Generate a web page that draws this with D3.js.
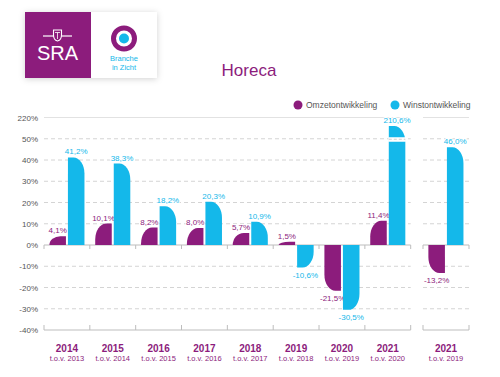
<!DOCTYPE html>
<html>
<head>
<meta charset="utf-8">
<script src="https://cdn.jsdelivr.net/npm/d3@7"></script>
<style>
  body { margin: 0; background: #fff; }
  text { font-family: "Liberation Sans", Arial, sans-serif; }
</style>
</head>
<body>
<div id="chart"></div>
<script>
// data
const years = ['2014', '2015', '2016', '2017', '2018', '2019', '2020', '2021', '2021 '];
const baseYears = ['2013', '2014', '2015', '2016', '2017', '2018', '2019', '2020', '2019'];
const panelOf = [0, 0, 0, 0, 0, 0, 0, 0, 1];
const omzet = [4.1, 10.1, 8.2, 8.0, 5.7, 1.5, -21.5, 11.4, -13.2];
const winst = [41.2, 38.3, 18.2, 20.3, 10.9, -10.6, -30.5, 210.6, 46.0];
const seriesNames = ['Omzetontwikkeling', 'Winstontwikkeling'];
const yTicks = [-40, -30, -20, -10, 0, 10, 20, 30, 40, 50];
const topTick = 60;           // axis break: this position is labelled 220%
const topTickLabel = '220%';
const breakTop = 56;          // bars above the break are drawn up to here

const purple = '#8c1c7c';
const blue = '#14b8ea';
const W = 500, H = 377;

const svg = d3.select('#chart')
  .append('svg')
  .attr('width', W)
  .attr('height', H);

const defs = svg.append('defs');
const shadow = defs.append('filter').attr('id', 'shadow')
  .attr('x', -0.2).attr('y', -0.3).attr('width', 1.4).attr('height', 1.6);
shadow.append('feDropShadow')
  .attr('dx', 0).attr('dy', 1).attr('stdDeviation', 3)
  .attr('flood-color', '#000').attr('flood-opacity', 0.18);

// Logo
const logo = svg.append('g');
logo.append('rect').attr('x', 25).attr('y', 12).attr('width', 132).attr('height', 66)
  .attr('fill', '#fff').attr('filter', 'url(#shadow)');
logo.append('rect').attr('x', 25).attr('y', 12).attr('width', 66).attr('height', 66)
  .attr('fill', purple);
logo.append('line').attr('x1', 43).attr('x2', 72).attr('y1', 36).attr('y2', 36)
  .attr('stroke', '#fff').attr('stroke-width', 1.2);
logo.append('path')
  .attr('d', 'M53.5,30 H61.5 V35 Q61.5,40 57.5,41 Q53.5,40 53.5,35 Z')
  .attr('fill', purple).attr('stroke', '#fff').attr('stroke-width', 1.1);
logo.append('line').attr('x1', 55).attr('x2', 60).attr('y1', 32.5).attr('y2', 32.5)
  .attr('stroke', '#fff').attr('stroke-width', 0.8);
logo.append('line').attr('x1', 57.5).attr('x2', 57.5).attr('y1', 32.5).attr('y2', 39)
  .attr('stroke', '#fff').attr('stroke-width', 0.8);
logo.append('text').attr('x', 57.5).attr('y', 60).attr('text-anchor', 'middle')
  .attr('fill', '#fff').style('font-size', '20px').text('SRA');
logo.append('circle').attr('cx', 124).attr('cy', 38.5).attr('r', 10.5)
  .attr('fill', '#fff').attr('stroke', purple).attr('stroke-width', 5);
logo.append('circle').attr('cx', 124).attr('cy', 38.5).attr('r', 5)
  .attr('fill', blue);
logo.append('text').attr('x', 124).attr('y', 61).attr('text-anchor', 'middle')
  .attr('fill', blue).style('font-size', '7.5px').text('Branche');
logo.append('text').attr('x', 124).attr('y', 70).attr('text-anchor', 'middle')
  .attr('fill', blue).style('font-size', '7.5px').text('in Zicht');

// Title
svg.append('text').attr('x', 249).attr('y', 76).attr('text-anchor', 'middle')
  .attr('fill', purple).style('font-size', '17px').text('Horeca');

// Legend
const legend = svg.append('g').attr('transform', 'translate(298,105)');
[purple, blue].forEach((c, i) => {
  const g = legend.append('g').attr('transform', `translate(${i * 97},0)`);
  g.append('circle').attr('r', 4.5).attr('fill', c);
  g.append('text').attr('x', 8).attr('y', 3).attr('fill', '#555')
    .style('font-size', '8.5px').text(seriesNames[i]);
});

// Scales
const y = d3.scaleLinear().domain([-40, topTick]).range([330, 117.5]);

const panels = [
  d3.scaleBand().domain(years.filter((d, i) => panelOf[i] === 0)).range([44, 410.7]),
  d3.scaleBand().domain(years.filter((d, i) => panelOf[i] === 1)).range([423, 469])
];
const sub = d3.scaleBand().domain(['omzet', 'winst'])
  .range([0, panels[0].bandwidth()]).paddingInner(0.108).paddingOuter(0.29);

const xOf = i => panels[panelOf[i]](years[i]);

// Grid and axes for each panel
panels.forEach(x => {
  const [x0, x1] = x.range();
  const g = svg.append('g');
  g.selectAll('line.grid')
    .data(yTicks.filter(d => d !== 0 && d !== -40))
    .join('line')
    .attr('x1', x0).attr('x2', x1)
    .attr('y1', d => y(d)).attr('y2', d => y(d))
    .attr('stroke', '#d4d4d4').attr('stroke-dasharray', '4,3');
  g.append('line')
    .attr('x1', x0).attr('x2', x1).attr('y1', y(topTick)).attr('y2', y(topTick))
    .attr('stroke', '#e2e2e2');
  const bounds = x.domain().map(d => x(d)).concat([x1]);
  [[0, 4], [-40, -5]].forEach(([v, t]) => {
    g.append('line')
      .attr('x1', x0).attr('x2', x1).attr('y1', y(v)).attr('y2', y(v))
      .attr('stroke', '#bdbdbd');
    g.selectAll(null).data(bounds).join('line')
      .attr('x1', d => d).attr('x2', d => d)
      .attr('y1', y(v)).attr('y2', y(v) + t)
      .attr('stroke', '#bdbdbd');
  });
});

// Y tick labels
const yAxis = svg.append('g')
  .attr('transform', 'translate(44,0)')
  .call(d3.axisLeft(y)
    .tickValues(yTicks.concat([topTick]))
    .tickSize(0).tickPadding(6)
    .tickFormat(d => d === topTick ? topTickLabel : d + '%'));
yAxis.select('.domain').remove();
yAxis.selectAll('text')
  .attr('fill', '#555')
  .style('font-size', '8px')
  .style('font-family', '"Liberation Sans", Arial, sans-serif');

// Bars
function barPath(x0, w, v, leftSide) {
  const yb = y(0);
  const yt = y(Math.min(v, breakTop));
  const h = Math.abs(yt - yb);
  const rx = Math.min(11, w), ry = Math.min(16, h);
  const x1 = x0 + w;
  if (v >= 0) {
    return leftSide
      ? `M${x0},${yb}V${yt + ry}A${rx},${ry} 0 0 1 ${x0 + rx},${yt}H${x1}V${yb}Z`
      : `M${x0},${yb}V${yt}H${x1 - rx}A${rx},${ry} 0 0 1 ${x1},${yt + ry}V${yb}Z`;
  }
  return leftSide
    ? `M${x0},${yb}V${yt - ry}A${rx},${ry} 0 0 0 ${x0 + rx},${yt}H${x1}V${yb}Z`
    : `M${x0},${yb}V${yt}H${x1 - rx}A${rx},${ry} 0 0 0 ${x1},${yt - ry}V${yb}Z`;
}

const fmt = v => v.toFixed(1).replace('.', ',') + '%';

const series = [
  { key: 'omzet', values: omzet, color: purple, left: true },
  { key: 'winst', values: winst, color: blue, left: false }
];

series.forEach(s => {
  const g = svg.append('g');
  const rows = s.values.map((v, i) => ({ v, i, x: xOf(i) + sub(s.key) }));
  g.selectAll('path').data(rows).join('path')
    .attr('d', d => barPath(d.x, sub.bandwidth(), d.v, s.left))
    .attr('fill', s.color);

  // axis break across bars that run past the top
  const broken = rows.filter(d => d.v > 50);
  g.selectAll('rect.brk').data(broken).join('rect')
    .attr('x', d => d.x - 0.5).attr('width', sub.bandwidth() + 1)
    .attr('y', y(50) - 1.5).attr('height', 4.5)
    .attr('fill', '#fff');
  g.selectAll('line.brk').data(broken).join('line')
    .attr('x1', d => d.x).attr('x2', d => d.x + sub.bandwidth())
    .attr('y1', y(50) + 0.5).attr('y2', y(50) + 0.5)
    .attr('stroke', '#cfcfcf').attr('stroke-dasharray', '3,2');

  g.selectAll('text').data(rows).join('text')
    .attr('x', d => d.x + sub.bandwidth() / 2)
    .attr('y', d => d.v >= 0 ? y(Math.min(d.v, breakTop)) - 3 : y(d.v) + 10)
    .attr('text-anchor', 'middle')
    .attr('fill', s.color)
    .attr('stroke', '#fff').attr('stroke-width', 2).attr('paint-order', 'stroke')
    .style('font-size', '8px')
    .text(d => fmt(d.v));
});

// X labels
const xl = svg.append('g');
years.forEach((yr, i) => {
  const cx = xOf(i) + panels[panelOf[i]].bandwidth() / 2;
  xl.append('text').attr('x', cx).attr('y', 352).attr('text-anchor', 'middle')
    .attr('fill', purple).style('font-size', '10px').style('font-weight', 'bold')
    .text(yr.trim());
  xl.append('text').attr('x', cx).attr('y', 361).attr('text-anchor', 'middle')
    .attr('fill', purple).style('font-size', '7.5px')
    .text('t.o.v. ' + baseYears[i]);
});
</script>
</body>
</html>
